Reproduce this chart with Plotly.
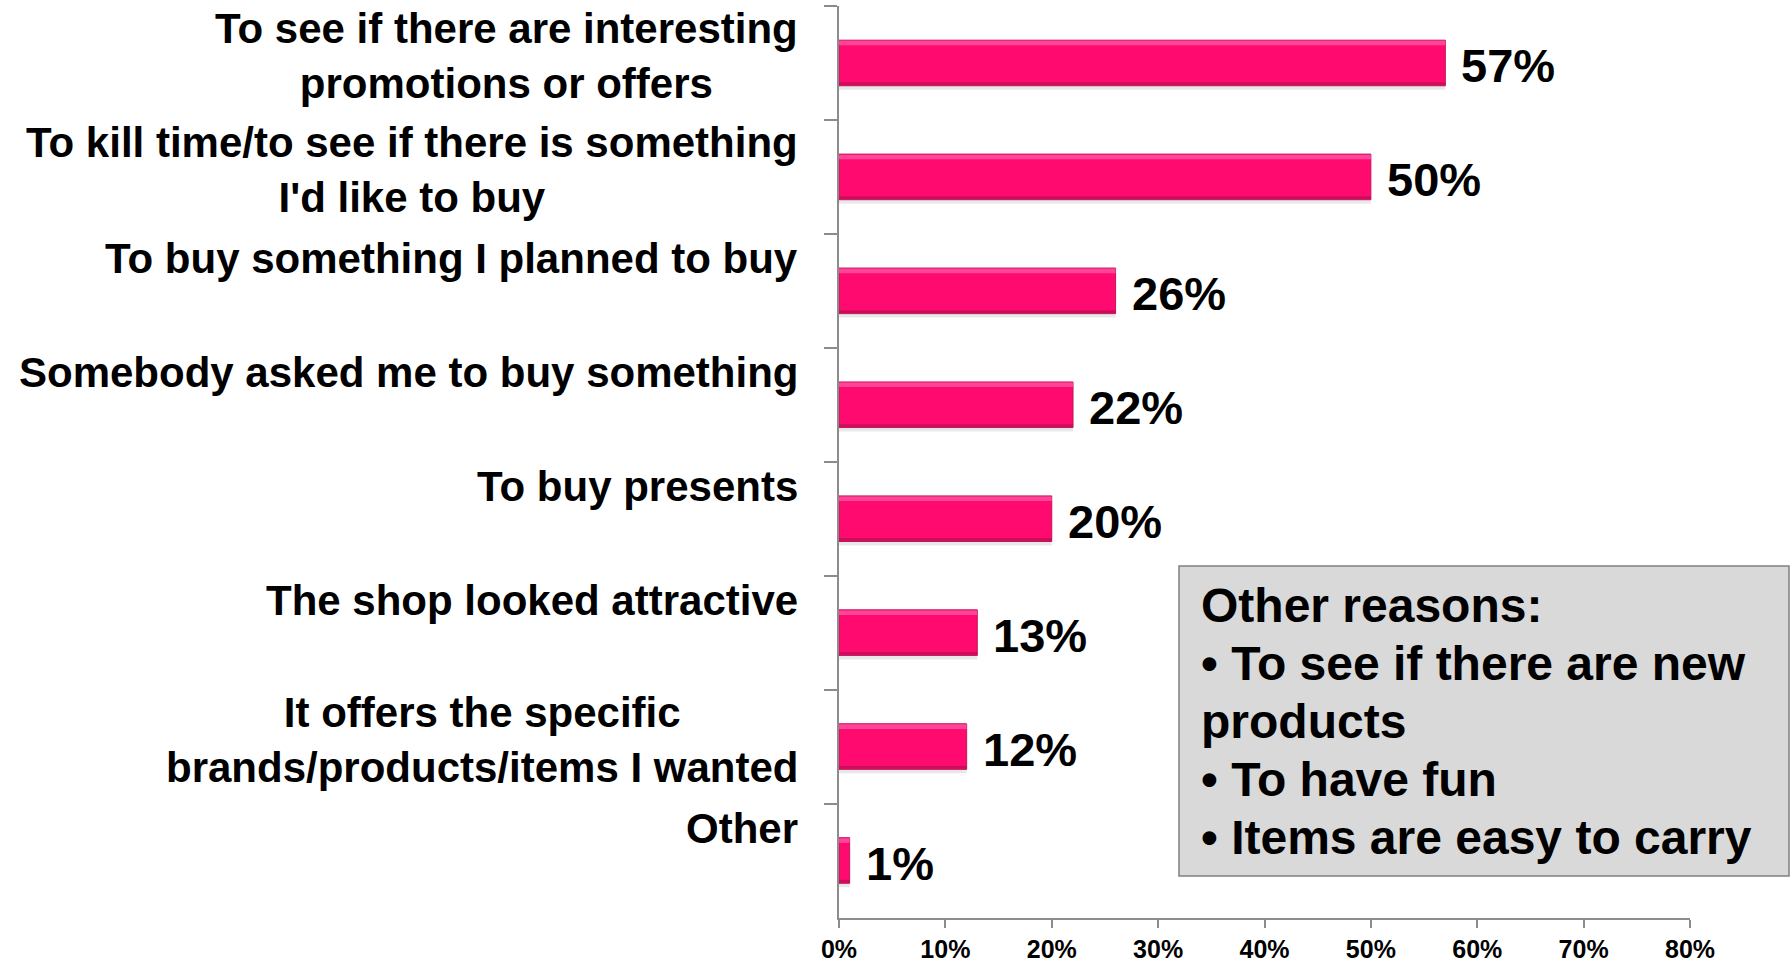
import plotly.graph_objects as go

# Reasons for entering the shop (share of respondents)
categories = [
    "To see if there are interesting<br>promotions or offers",
    "To kill time/to see if there is something<br>I'd like to buy",
    "To buy something I planned to buy",
    "Somebody asked me to buy something",
    "To buy presents",
    "The shop looked attractive",
    "It offers the specific<br>brands/products/items I wanted",
    "Other",
]
values = [0.57, 0.50, 0.26, 0.22, 0.20, 0.13, 0.12, 0.01]
value_labels = ["57%", "50%", "26%", "22%", "20%", "13%", "12%", "1%"]

x_ticks = [0, 0.1, 0.2, 0.3, 0.4, 0.5, 0.6, 0.7, 0.8]
x_tick_labels = ["0%", "10%", "20%", "30%", "40%", "50%", "60%", "70%", "80%"]

other_reasons = [
    "Other reasons:",
    "\u2022 To see if there are new",
    "products",
    "\u2022 To have fun",
    "\u2022 Items are easy to carry",
]

FONT = "Liberation Sans"
PINK = "#FF0A6E"

# figure geometry (pixels)
W, H = 1791, 962
M_L, M_R, M_T, M_B = 839, 101, 6, 44
PW = W - M_L - M_R
PH = H - M_T - M_B


def px_x(p):
    return (p - M_L) / PW


def px_y(p):
    return (H - M_B - p) / PH


fig = go.Figure()

# soft shadow under each bar
fig.add_trace(go.Bar(
    x=values, y=categories, orientation="h",
    width=0.05, offset=0.185,
    marker=dict(color="rgba(0,0,0,0.09)", line=dict(width=0)),
    hoverinfo="skip", showlegend=False,
))
# main bars
fig.add_trace(go.Bar(
    x=values, y=categories, orientation="h",
    width=0.40, offset=-0.20,
    marker=dict(color=PINK, line=dict(color="#C4145C", width=1)),
    showlegend=False,
))
# bevel highlight along the top edge
fig.add_trace(go.Bar(
    x=values, y=categories, orientation="h",
    width=0.04, offset=-0.195,
    marker=dict(color="rgba(255,90,165,0.75)", line=dict(width=0)),
    hoverinfo="skip", showlegend=False,
))
# darker bevel along the bottom edge
fig.add_trace(go.Bar(
    x=values, y=categories, orientation="h",
    width=0.025, offset=0.17,
    marker=dict(color="rgba(190,15,85,0.8)", line=dict(width=0)),
    hoverinfo="skip", showlegend=False,
))

annotations = []

# category labels, centred lines in a right-aligned block
for cat in categories:
    n_lines = cat.count("<br>") + 1
    annotations.append(dict(
        x=0, xref="paper", xanchor="right", xshift=-39,
        y=cat, yref="y", yanchor="middle", yshift=7 + (2 - n_lines) * 25,
        text=cat, align="center", showarrow=False,
        font=dict(family=FONT, size=42, color="black", weight="bold"),
    ))

# value labels at the end of each bar
for cat, v, lab in zip(categories, values, value_labels):
    annotations.append(dict(
        x=v, xref="x", xanchor="left", xshift=14,
        y=cat, yref="y", yanchor="middle", yshift=-3,
        text=lab, showarrow=False,
        font=dict(family=FONT, size=47, color="black", weight="bold"),
    ))

# text of the "Other reasons" box
first_center, pitch = 605, 58
for i, line in enumerate(other_reasons):
    annotations.append(dict(
        x=px_x(1199), xref="paper", xanchor="left",
        y=px_y(first_center + i * pitch), yref="paper", yanchor="middle",
        text=line, showarrow=False, align="left",
        font=dict(family=FONT, size=48, color="black", weight="bold"),
    ))

fig.update_layout(
    width=W, height=H,
    margin=dict(l=M_L, r=M_R, t=M_T, b=M_B, autoexpand=False),
    paper_bgcolor="white", plot_bgcolor="white",
    barmode="overlay",
    bargap=0.6,
    showlegend=False,
    annotations=annotations,
    shapes=[dict(
        type="rect", xref="paper", yref="paper",
        x0=px_x(1179), x1=px_x(1789), y0=px_y(876), y1=px_y(566),
        fillcolor="#D9D9D9", line=dict(color="#808080", width=1.5),
        layer="below",
    )],
    xaxis=dict(
        range=[0, 0.8], tickvals=x_ticks, ticktext=x_tick_labels,
        automargin=False,
        showgrid=False, zeroline=False,
        showline=True, linecolor="#8C8C8C", linewidth=1.5,
        ticks="outside", ticklen=8, tickcolor="#8C8C8C", tickwidth=1.5,
        ticklabelstandoff=0,
        tickfont=dict(family=FONT, size=25, color="black", weight="bold"),
    ),
    yaxis=dict(
        type="category", categoryorder="array", categoryarray=categories,
        autorange="reversed", automargin=False,
        showticklabels=False, showgrid=False, zeroline=False,
        showline=True, linecolor="#8C8C8C", linewidth=1.5,
        ticks="outside", ticklen=13, tickcolor="#8C8C8C", tickwidth=1.5,
        tickson="boundaries",
    ),
)

fig.write_html("out.html")
